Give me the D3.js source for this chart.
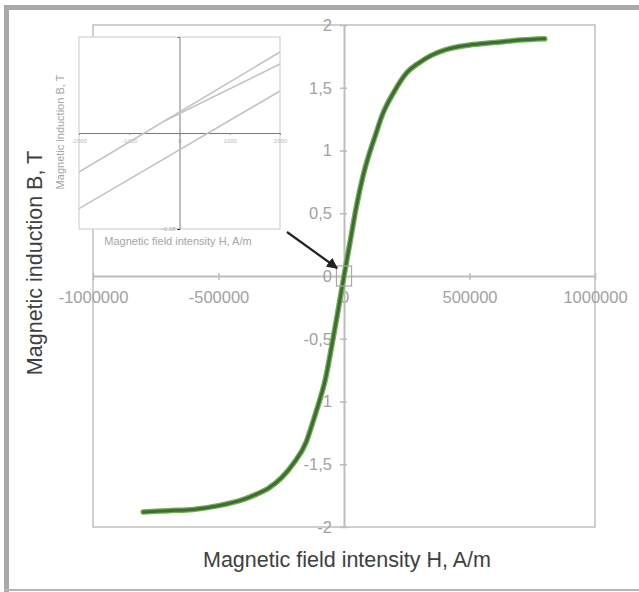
<!DOCTYPE html>
<html>
<head>
<meta charset="utf-8">
<script src="https://cdn.jsdelivr.net/npm/d3@7"></script>
<style>
  body { margin: 0; background: #fff; }
  text { font-family: "Liberation Sans", Arial, sans-serif; }
</style>
</head>
<body>
<div id="container"></div>
<script>
/* DATA */
// main magnetisation curve, H in A/m, B in T
const hValues = [-800000, -700000, -600000, -500000, -400000, -350000, -300000, -250000, -200000,
  -150000, -125000, -100000, -75000, -50000, -25000, 0, 25000, 50000, 75000, 100000, 125000,
  150000, 200000, 250000, 300000, 350000, 400000, 500000, 600000, 700000, 800000];
const bValues = [-1.88, -1.87, -1.86, -1.83, -1.78, -1.74, -1.69, -1.61, -1.49,
  -1.32, -1.17, -1.01, -0.83, -0.57, -0.29, 0.0, 0.28, 0.56, 0.79, 0.97, 1.12,
  1.27, 1.47, 1.62, 1.70, 1.76, 1.80, 1.84, 1.86, 1.88, 1.89];
const xTicks = [-1000000, -500000, 0, 500000, 1000000];
const yTicks = [-2, -1.5, -1, -0.5, 0, 0.5, 1, 1.5, 2];

// inset (zoom near the origin)
const insetUpperH = [-2000, 2000];
const insetUpperB = [-0.0325, 0.0675];
const insetInitH = [-300, 2000];
const insetInitB = [0.0100, 0.0575];
const insetLowerH = [-2000, 2000];
const insetLowerB = [-0.063, 0.035];
const insetXTicks = [-2000, -1000, 0, 1000, 2000];
const insetYTicks = [-0.08];

const width = 639, height = 592;
const svg = d3.select("#container").append("svg")
  .attr("width", width).attr("height", height);

/* FRAME */
svg.append("rect").attr("x", 4).attr("y", 5).attr("width", 640).attr("height", 5).attr("fill", "#a9a9a9");
svg.append("rect").attr("x", 4).attr("y", 5).attr("width", 5).attr("height", 590).attr("fill", "#a9a9a9");
svg.append("rect").attr("x", 4).attr("y", 589).attr("width", 640).attr("height", 2).attr("fill", "#b5b5b5");

/* MAIN SCALES */
const x = d3.scaleLinear().domain([-1000000, 1000000]).range([93, 595]);
const y = d3.scaleLinear().domain([-2, 2]).range([527, 25]);
const fmt = d => String(d).replace(".", ",");

// plot border
svg.append("rect")
  .attr("x", x(-1000000)).attr("y", y(2))
  .attr("width", x(1000000) - x(-1000000)).attr("height", y(-2) - y(2))
  .attr("fill", "none").attr("stroke", "#cfcfcf").attr("stroke-width", 2);

// x axis through B = 0
const xAxis = svg.append("g")
  .attr("transform", `translate(0,${y(0)})`)
  .call(d3.axisBottom(x).tickValues(xTicks).tickSize(0).tickPadding(15).tickFormat(d => d));
xAxis.select(".domain").attr("stroke", "#bdbdbd").attr("stroke-width", 2);
xAxis.selectAll("text").attr("fill", "#a2a2a2").attr("font-size", 16.5);
xAxis.selectAll(".tick").append("line")
  .attr("y1", -3).attr("y2", 4).attr("stroke", "#bdbdbd").attr("stroke-width", 1.5);

// y axis through H = 0
const yAxis = svg.append("g")
  .attr("transform", `translate(${x(0)},0)`)
  .call(d3.axisLeft(y).tickValues(yTicks).tickSize(0).tickPadding(12).tickFormat(fmt));
yAxis.select(".domain").attr("stroke", "#bdbdbd").attr("stroke-width", 2);
yAxis.selectAll("text").attr("fill", "#a2a2a2").attr("font-size", 16.5);
yAxis.selectAll(".tick").append("line")
  .attr("x1", -4).attr("x2", 3).attr("stroke", "#bdbdbd").attr("stroke-width", 1.5);

/* CURVE */
const curve = hValues.map((h, i) => [h, bValues[i]]);
const line = d3.line().x(d => x(d[0])).y(d => y(d[1])).curve(d3.curveMonotoneX);
svg.append("path").attr("d", line(curve)).attr("fill", "none")
  .attr("stroke", "#72b052").attr("stroke-width", 5.5).attr("stroke-linecap", "round");
svg.append("path").attr("d", line(curve)).attr("fill", "none")
  .attr("stroke", "#3f6b34").attr("stroke-width", 3).attr("stroke-linecap", "round");

// small box marking the zoomed region
svg.append("rect").attr("x", x(-30000)).attr("y", y(0.08))
  .attr("width", x(30000) - x(-30000)).attr("height", y(-0.08) - y(0.08))
  .attr("fill", "none").attr("stroke", "#a8a8a8").attr("stroke-width", 1.2);

/* ARROW */
svg.append("defs").append("marker")
  .attr("id", "head").attr("viewBox", "0 0 10 10").attr("refX", 9).attr("refY", 5)
  .attr("markerWidth", 5).attr("markerHeight", 5).attr("orient", "auto")
  .append("path").attr("d", "M0,0L10,5L0,10Z").attr("fill", "#222");
svg.append("line")
  .attr("x1", 287).attr("y1", 232).attr("x2", 337).attr("y2", 268)
  .attr("stroke", "#222").attr("stroke-width", 2.2).attr("marker-end", "url(#head)");

/* AXIS TITLES */
svg.append("text").attr("x", 347).attr("y", 567).attr("text-anchor", "middle")
  .attr("font-size", 21.5).attr("fill", "#404040")
  .text("Magnetic field intensity H, A/m");
svg.append("text").attr("transform", "translate(42,263) rotate(-90)")
  .attr("text-anchor", "middle").attr("font-size", 21.5).attr("fill", "#404040")
  .text("Magnetic induction B, T");

/* INSET */
const ix = d3.scaleLinear().domain([-2000, 2000]).range([79, 280]);
const iy = d3.scaleLinear().domain([-0.08, 0.08]).range([229, 37]);
const inset = svg.append("g");
inset.append("rect").attr("x", 79).attr("y", 37).attr("width", 201).attr("height", 192)
  .attr("fill", "#fff").attr("stroke", "#d2d2d2").attr("stroke-width", 1.2);

const ixAxis = inset.append("g").attr("transform", `translate(0,${iy(0)})`)
  .call(d3.axisBottom(ix).tickValues(insetXTicks).tickSize(2).tickPadding(4).tickFormat(d => d));
ixAxis.select(".domain").attr("stroke", "#7a7a7a");
ixAxis.selectAll("line").attr("stroke", "#999");
ixAxis.selectAll("text").attr("fill", "#bbb").attr("font-size", 6);

const iyAxis = inset.append("g").attr("transform", `translate(${ix(0)},0)`)
  .call(d3.axisLeft(iy).tickValues(insetYTicks).tickSize(2).tickPadding(2).tickFormat(d3.format(".2f")));
iyAxis.select(".domain").attr("stroke", "#7a7a7a");
iyAxis.selectAll("text").attr("fill", "#aaa").attr("font-size", 6);

const iline = d3.line().x(d => ix(d[0])).y(d => iy(d[1]));
[[insetUpperH, insetUpperB], [insetInitH, insetInitB], [insetLowerH, insetLowerB]].forEach(([hs, bs]) => {
  inset.append("path").attr("d", iline(hs.map((h, i) => [h, bs[i]])))
    .attr("fill", "none").attr("stroke", "#c4c4c4").attr("stroke-width", 1.6);
});

inset.append("text").attr("x", 178).attr("y", 245).attr("text-anchor", "middle")
  .attr("font-size", 11).attr("fill", "#a5a5a5").text("Magnetic field intensity H, A/m");
inset.append("text").attr("transform", "translate(64,132) rotate(-90)")
  .attr("text-anchor", "middle").attr("font-size", 11).attr("fill", "#a5a5a5")
  .text("Magnetic induction B, T");
</script>
</body>
</html>
